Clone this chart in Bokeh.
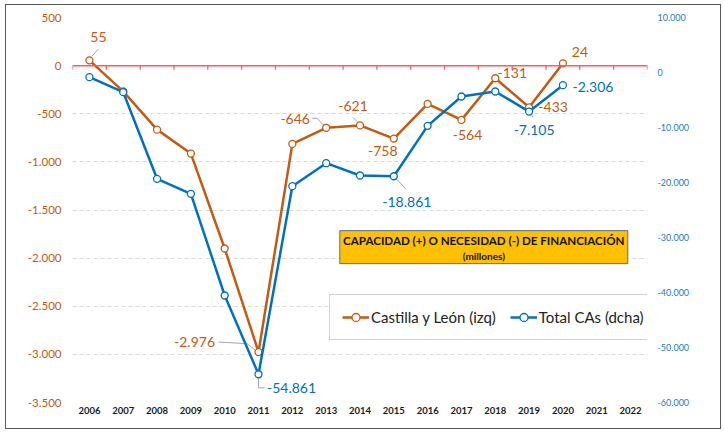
from bokeh.plotting import figure
from bokeh.models import (Range1d, LinearAxis, FixedTicker, CustomJSTickFormatter,
                          Span, Legend, LegendItem, ColumnDataSource)
from bokeh.embed import file_html
from bokeh.resources import INLINE
from bokeh.core.properties import value

# ---------------- data ----------------
years = [str(y) for y in range(2006, 2023)]
data_years = years[:15]
cyl = [55, -267, -665, -914, -1900, -2976, -813, -646, -621, -758, -398, -564, -131, -433, 24]
total = [-850, -3580, -19330, -22060, -40545, -54861, -20670, -16490, -18730, -18861,
         -9700, -4360, -3450, -7105, -2306]
left_ticks = list(range(-3500, 501, 500))
right_ticks = list(range(-60000, 10001, 10000))
cyl_labelled = ["2006", "2011", "2013", "2014", "2015", "2017", "2018", "2019", "2020"]
tot_labelled = ["2011", "2015", "2019", "2020"]
title_l1 = "CAPACIDAD (+) O NECESIDAD (-) DE FINANCIACIÓN"
title_l2 = "(millones)"
name_cyl = "Castilla y León (izq)"
name_tot = "Total CAs (dcha)"

# ---------------- styles ----------------
ORANGE = "#C55A11"
BLUE = "#0070C0"
FONT = "Lato"
FRAME_W, FRAME_H = 575, 385
PX_CAT = FRAME_W / len(years)
PX_L = FRAME_H / (500 - (-3500))
PX_R = FRAME_H / (10000 - (-60000))

cyl_off = {"2006": (9, -23), "2011": (-64, -10), "2013": (-31, -9), "2014": (-7, -19),
           "2015": (-11, 12), "2017": (6, 15), "2018": (17, -5), "2019": (24, 0), "2020": (17, -11)}
tot_off = {"2011": (33, 14), "2015": (13, 26), "2019": (5, 18), "2020": (30, 2)}
cyl_lead = {"2006": [(2.5, -4), (9, -11.4)],
            "2011": [(-40, -10), (-11.5, -8.4), (-1, 0)],
            "2013": [(-14, -9.5), (-9, -9.5), (-2, -2)],
            "2014": [(-7, -8), (-2, -3)]}
tot_lead = {"2011": [(0, 2), (0, 13.6), (6, 13.6)],
            "2015": [(1, 1), (12, 12.6)],
            "2019": [(1, 1), (4, 5.7)]}


def fmt(v):
    s = f"{abs(v):,}".replace(",", ".")
    return ("-" if v < 0 else "") + s


xi = [years.index(y) for y in data_years]

# figure sits inside a 1px border drawn at x=5..722, y=4..430
p = figure(width=716, height=425, x_range=Range1d(-0.5, len(years) - 0.5),
           y_range=Range1d(-3500, 500), output_backend="svg", toolbar_location=None,
           min_border_left=66, min_border_right=75, min_border_top=12, min_border_bottom=28)
p.styles = {"border": "1px solid #5a5a5a", "margin-left": "5px", "margin-top": "4px"}
p.extra_y_ranges = {"right": Range1d(-60000, 10000)}
p.outline_line_color = None
p.background_fill_color = "white"
p.border_fill_color = "white"

dot_fmt = CustomJSTickFormatter(code="return tick.toFixed(0).replace(/\\B(?=(\\d{3})+(?!\\d))/g, '.');")

def plain_axis(ax):
    ax.axis_line_color = None
    ax.major_tick_line_color = None
    ax.minor_tick_line_color = None
    ax.major_tick_out = 0
    ax.major_tick_in = 0
    ax.minor_tick_out = 0
    ax.minor_tick_in = 0

# left axis
p.yaxis.ticker = FixedTicker(ticks=left_ticks)
p.yaxis.formatter = dot_fmt
plain_axis(p.yaxis[0])
p.yaxis.major_label_text_color = ORANGE
p.yaxis.major_label_text_font = FONT
p.yaxis.major_label_text_font_size = "11.5px"
p.yaxis.major_label_standoff = 11

# right axis
ra = LinearAxis(y_range_name="right", ticker=FixedTicker(ticks=right_ticks), formatter=dot_fmt)
plain_axis(ra)
ra.major_label_text_color = "#1F7BC4"
ra.major_label_text_font = FONT
ra.major_label_text_font_size = "9px"
ra.major_label_standoff = 10
p.add_layout(ra, "right")

# x axis
p.xaxis.ticker = FixedTicker(ticks=list(range(len(years))))
p.xaxis.major_label_overrides = {i: y for i, y in enumerate(years)}
plain_axis(p.xaxis[0])
p.xaxis.major_label_text_font = FONT
p.xaxis.major_label_text_font_style = "bold"
p.xaxis.major_label_text_font_size = "9.5px"
p.xaxis.major_label_text_color = "#1a1a1a"
p.xaxis.major_label_standoff = 4

p.xgrid.grid_line_color = None
p.ygrid.ticker = FixedTicker(ticks=left_ticks)
p.ygrid.grid_line_color = "#D9D9D9"
p.ygrid.grid_line_dash = "4 3"

# red zero axis with tick marks at category boundaries
p.add_layout(Span(location=0, dimension="width", line_color="#FF5B5B", line_width=1.5))
bounds = [i - 0.5 for i in range(len(years) + 1)]
p.segment(x0=bounds, x1=bounds, y0=[0] * len(bounds), y1=[-4 / PX_L] * len(bounds),
          line_color="#FF5B5B", line_width=1.3)

# title box
bx, by = 11.66, -1886
p.rect(x=[bx], y=[by], width=288, height=33, width_units="screen", height_units="screen",
       fill_color="#FFC000", line_color="#4F6E9E", line_width=1)
p.text(x=[bx], y=[by], text=[title_l1], y_offset=-6.5, text_align="center", text_baseline="middle",
       text_font=value(FONT), text_font_style="bold", text_font_size="11.6px", text_color="#111111")
p.text(x=[bx], y=[by], text=[title_l2], y_offset=8.5, text_align="center", text_baseline="middle",
       text_font=value(FONT), text_font_style="bold", text_font_size="10px", text_color="#111111")

# leader lines
def leaders(lead, vals, px_y, rng):
    xs, ys = [], []
    for yr, pts in lead.items():
        i = data_years.index(yr)
        xs.append([xi[i] + dx / PX_CAT for dx, dy in pts])
        ys.append([vals[i] - dy / px_y for dx, dy in pts])
    kw = {} if rng is None else {"y_range_name": rng}
    p.multi_line(xs=xs, ys=ys, line_color="#A6A6A6", line_width=1, **kw)

leaders(cyl_lead, cyl, PX_L, None)
leaders(tot_lead, total, PX_R, "right")

# series
l1 = p.line(xi, cyl, line_color=ORANGE, line_width=2.5)
s1 = p.scatter(xi, cyl, marker="circle", size=7, fill_color="white", line_color=ORANGE, line_width=1.3)
l2 = p.line(xi, total, line_color=BLUE, line_width=2.5, y_range_name="right")
s2 = p.scatter(xi, total, marker="circle", size=7, fill_color="white", line_color=BLUE,
               line_width=1.3, y_range_name="right")

# data labels
def labels(lab, off, vals, color, rng):
    src = ColumnDataSource(dict(
        x=[xi[data_years.index(y)] for y in lab],
        y=[vals[data_years.index(y)] for y in lab],
        t=[fmt(vals[data_years.index(y)]) for y in lab],
        xo=[off[y][0] for y in lab],
        yo=[off[y][1] for y in lab]))
    kw = {} if rng is None else {"y_range_name": rng}
    p.text(x="x", y="y", text="t", x_offset="xo", y_offset="yo", source=src,
           text_align="center", text_baseline="middle", text_font=value(FONT),
           text_font_size="14px", text_color=color, **kw)

labels(cyl_labelled, cyl_off, cyl, ORANGE, None)
labels(tot_labelled, tot_off, total, BLUE, "right")

legend = Legend(items=[LegendItem(label=name_cyl, renderers=[l1, s1]),
                       LegendItem(label=name_tot, renderers=[l2, s2])],
                orientation="horizontal", location=(257, 62))
legend.border_line_color = "#A6A6A6"
legend.border_line_width = 1
legend.background_fill_color = "white"
legend.background_fill_alpha = 1
legend.label_text_font = FONT
legend.label_text_font_size = "15px"
legend.label_text_color = "#222222"
legend.padding = 12
legend.margin = 0
legend.spacing = 14
legend.glyph_width = 27
legend.label_standoff = 2
p.add_layout(legend, "center")

open("out.html", "w").write(file_html(p, INLINE))
